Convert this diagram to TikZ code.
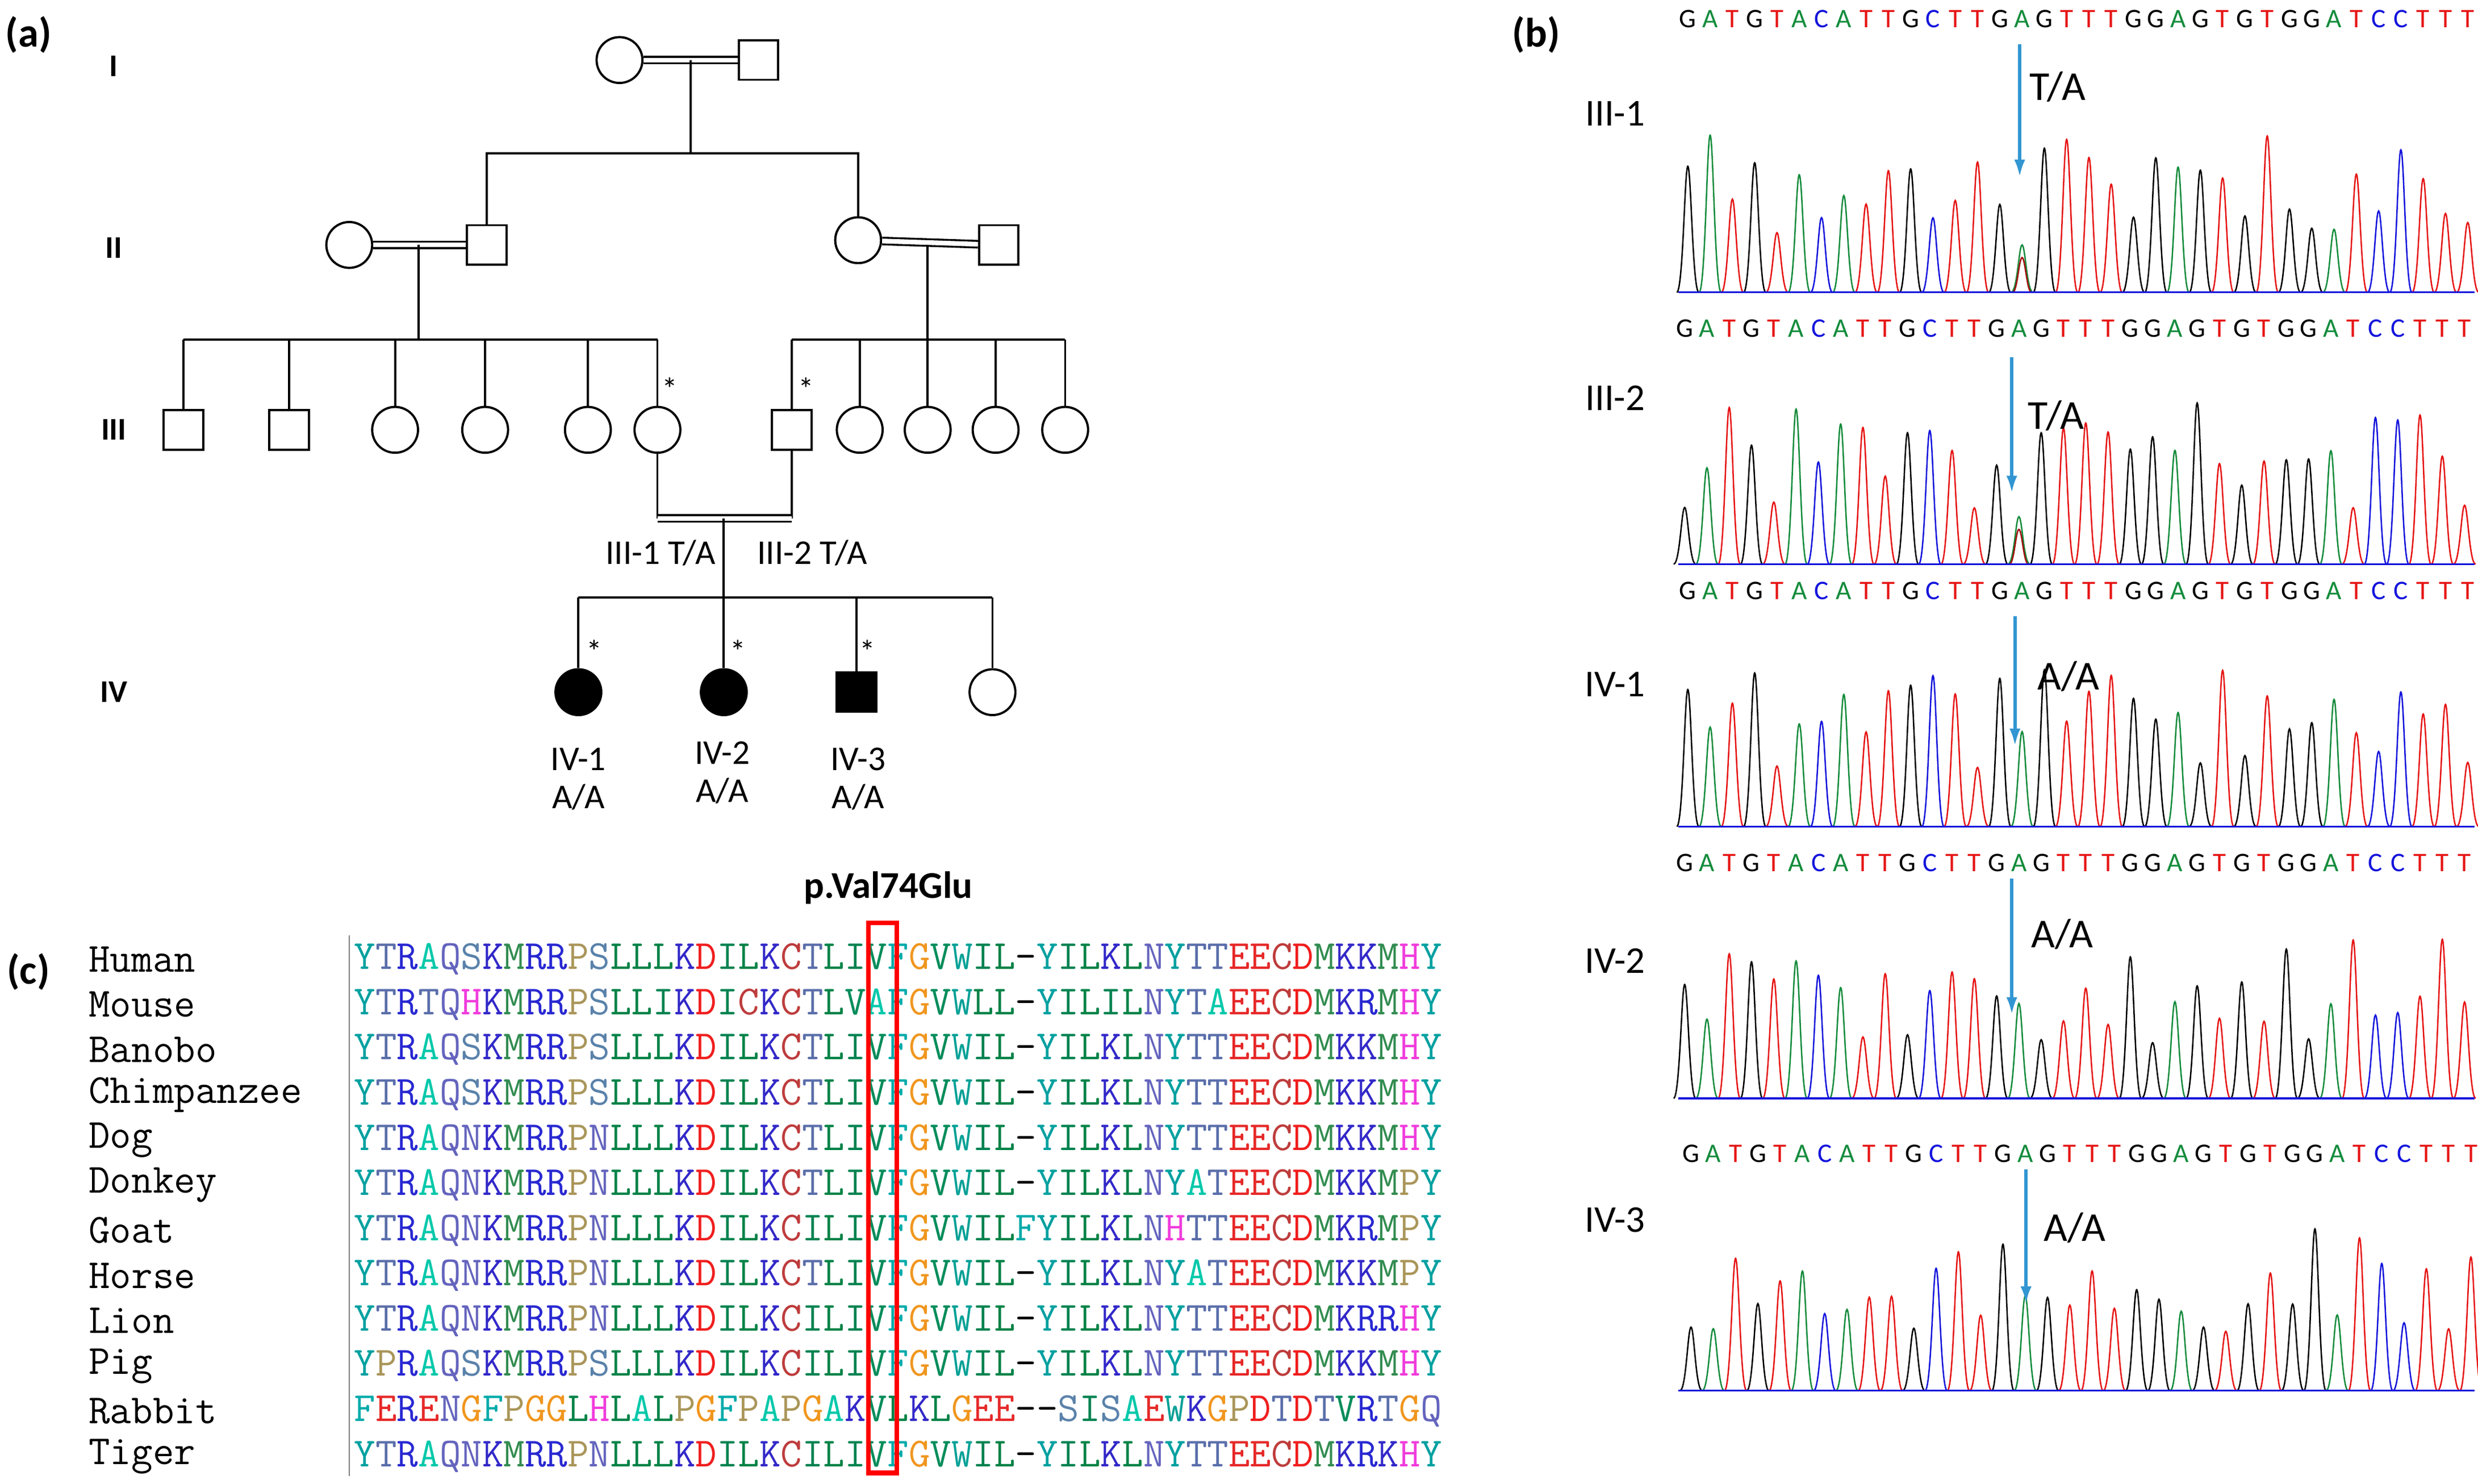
\documentclass[tikz,border=0pt]{standalone}
\usepackage{fontspec}
\setmainfont{Carlito}
\usetikzlibrary{arrows.meta}
\definecolor{colG}{RGB}{0,0,0}
\definecolor{colA}{RGB}{20,140,60}
\definecolor{colT}{RGB}{230,20,20}
\definecolor{colC}{RGB}{20,20,220}
\definecolor{arrblue}{RGB}{50,150,210}
\definecolor{aaY}{RGB}{0,160,160}
\definecolor{aaT}{RGB}{90,110,170}
\definecolor{aaR}{RGB}{40,40,210}
\definecolor{aaA}{RGB}{0,200,170}
\definecolor{aaQ}{RGB}{100,100,190}
\definecolor{aaS}{RGB}{90,130,170}
\definecolor{aaK}{RGB}{50,40,200}
\definecolor{aaM}{RGB}{50,140,80}
\definecolor{aaP}{RGB}{170,150,90}
\definecolor{aaL}{RGB}{0,130,70}
\definecolor{aaD}{RGB}{240,30,30}
\definecolor{aaI}{RGB}{0,130,80}
\definecolor{aaC}{RGB}{190,60,60}
\definecolor{aaV}{RGB}{0,140,90}
\definecolor{aaF}{RGB}{0,170,170}
\definecolor{aaG}{RGB}{240,150,30}
\definecolor{aaW}{RGB}{0,160,150}
\definecolor{aaE}{RGB}{230,40,40}
\definecolor{aaN}{RGB}{100,100,190}
\definecolor{aaH}{RGB}{240,60,220}
\def\aachar#1{\ifx#1-\textcolor{black}{-}\else\textcolor{aa#1}{#1}\fi}
\def\aaseq#1{\ifx#1\relax\else\aachar{#1}\expandafter\aaseq\fi}
\tikzset{
 fem/.style={circle,draw,line width=1.4pt,minimum size=29pt,inner sep=0pt},
 mal/.style={rectangle,draw,line width=1.4pt,minimum size=25pt,inner sep=0pt},
 aff/.style={fill=black},
 dbl/.style={double,double distance=3pt,line width=1.2pt},
 ln/.style={line width=1.4pt},
 gen/.style={font=\fontsize{20}{22}\selectfont\bfseries},
 lab/.style={font=\fontsize{22}{24}\selectfont},
 panel/.style={font=\fontsize{26}{28}\selectfont\bfseries},
 star/.style={font=\fontsize{20}{20}\selectfont},
 blue arrow/.style={arrblue,line width=2pt,-{Latex[length=11pt,width=7pt]}},
 seqlet/.style={font=\fontsize{17}{17}\selectfont,inner sep=0pt},
 aln/.style={font=\fontsize{26.2}{26}\ttfamily,anchor=west,inner sep=0pt},
 gt/.style={font=\fontsize{26}{28}\selectfont,anchor=west,inner sep=1pt},
}
\newcommand\chromo[5]{% base, texty, hetero(1/0), seed, xoffset
 \pgfmathsetseed{#4}
 \foreach \L [count=\i] in {G,A,T,G,T,A,C,A,T,T,G,C,T,T,G,A,G,T,T,T,G,G,A,G,T,G,T,G,G,A,T,C,C,T,T,T}{
  \pgfmathsetmacro\x{1068+#5+(\i-1)*14.1}
  \pgfmathsetmacro\h{ifthenelse(\i==16,ifthenelse(#3==1,30,60),35+68*rnd)}
  \draw[col\L,line width=0.9pt] (\x-7,#1) .. controls (\x-3,#1) and (\x-2,#1-\h) .. (\x,#1-\h) .. controls (\x+2,#1-\h) and (\x+3,#1) .. (\x+7,#1);
  \node[seqlet,text=col\L] at (\x,#2) {\L};
 }
 \ifnum#3=1
  \pgfmathsetmacro\x{1068+#5+15*14.1}
  \draw[colT!70!black,line width=0.9pt] (\x-6,#1) .. controls (\x-3,#1) and (\x-2,#1-22) .. (\x,#1-22) .. controls (\x+2,#1-22) and (\x+3,#1) .. (\x+6,#1);
 \fi
 \draw[colC,line width=1.2pt] (1062,#1) -- (1566,#1);
}
\begin{document}
\begin{tikzpicture}[x=1pt,y=-1pt]
\useasboundingbox (0,0) rectangle (1568,939);
\fill[white] (0,0) rectangle (1568,939);
% ===== (a) pedigree =====
\node[panel] (pa) at (18,22) {(a)};
\node[gen] (gI) at (72,42) {I};
\node[gen] (gII) at (72,157) {II};
\node[gen] (gIII) at (72,272) {III};
\node[gen] (gIV) at (72,438) {IV};
% gen I
\node[fem] (I1) at (392,38) {};
\node[mal] (I2) at (480,38) {};
\draw[dbl] (I1) -- (I2);
\coordinate (m1) at (437,38);
\coordinate (s1) at (437,97);
% gen II
\node[fem] (II1) at (221,155) {};
\node[mal] (II2) at (308,155) {};
\node[fem] (II3) at (543,152) {};
\node[mal] (II4) at (632,155) {};
\draw[dbl] (II1) -- (II2);
\draw[dbl] (II3) -- (II4);
\draw[ln] (m1) -- (s1);
\draw[ln] (II2.north) |- (s1) -| (II3.north);
% gen III
\node[mal] (III1) at (116,272) {};
\node[mal] (III2) at (183,272) {};
\node[fem] (III3) at (250,272) {};
\node[fem] (III4) at (307,272) {};
\node[fem] (III5) at (372,272) {};
\node[fem] (III6) at (416,272) {};
\node[mal] (III7) at (501,272) {};
\node[fem] (III8) at (544,272) {};
\node[fem] (III9) at (587,272) {};
\node[fem] (III10) at (630,272) {};
\node[fem] (III11) at (674,272) {};
\coordinate (m2) at (265,155);
\coordinate (s2) at (265,215);
\coordinate (m3) at (587,155);
\coordinate (s3) at (587,215);
\draw[ln] (m2) -- (s2);
\draw[ln] (m3) -- (s3);
\draw[ln] (III1.north|-s2) -- (III6.north|-s2);
\draw[ln] (III7.north|-s3) -- (III11.north|-s3);
\foreach \n in {III1,III2,III3,III4,III5,III6}{\draw[ln] (\n.north) -- (\n.north|-s2);}
\foreach \n in {III7,III8,III9,III10,III11}{\draw[ln] (\n.north) -- (\n.north|-s3);}
\node[star] (st1) at (424,246) {*};
\node[star] (st2) at (510,246) {*};
% III-1 x III-2
\coordinate (mA) at (416,328);
\coordinate (mB) at (501,328);
\coordinate (m4) at (458,328);
\coordinate (s4) at (458,378);
\draw[ln] (III6.south) -- (mA);
\draw[ln] (III7.south) -- (mB);
\draw[dbl] (mA) -- (mB);
\draw[ln] (m4) -- (s4);
\node[lab] (l31) at (418,350) {III-1 T/A};
\node[lab] (l32) at (514,350) {III-2 T/A};
% gen IV
\node[fem,aff] (IV1) at (366,438) {};
\node[fem,aff] (IV2) at (458,438) {};
\node[mal,aff] (IV3) at (542,438) {};
\node[fem] (IV4) at (628,438) {};
\draw[ln] (IV1.north|-s4) -- (IV4.north|-s4);
\foreach \n in {IV1,IV2,IV3,IV4}{\draw[ln] (\n.north) -- (\n.north|-s4);}
\node[star] (st3) at (376,412) {*};
\node[star] (st4) at (467,412) {*};
\node[star] (st5) at (549,412) {*};
\node[lab,align=center] (t1) at (366,493) {IV-1\\A/A};
\node[lab,align=center] (t2) at (457,489) {IV-2\\A/A};
\node[lab,align=center] (t3) at (543,493) {IV-3\\A/A};
% ===== (b) chromatograms =====
\node[panel] (pb) at (972,22) {(b)};
\chromo{185}{12}{1}{11}{0}
\chromo{357}{208}{1}{23}{-2}
\chromo{523}{374}{0}{37}{0}
\chromo{695}{546}{0}{41}{-2}
\chromo{880}{730}{0}{59}{2}
\node[lab,font=\fontsize{24}{26}\selectfont] (c1) at (1022,72) {III-1};
\node[lab,font=\fontsize{24}{26}\selectfont] (c2) at (1022,252) {III-2};
\node[lab,font=\fontsize{24}{26}\selectfont] (c3) at (1022,433) {IV-1};
\node[lab,font=\fontsize{24}{26}\selectfont] (c4) at (1022,608) {IV-2};
\node[lab,font=\fontsize{24}{26}\selectfont] (c5) at (1022,772) {IV-3};
\coordinate (a1s) at (1278,28); \coordinate (a1e) at (1278,112);
\coordinate (a2s) at (1273,226); \coordinate (a2e) at (1273,312);
\coordinate (a3s) at (1275,390); \coordinate (a3e) at (1275,472);
\coordinate (a4s) at (1273,556); \coordinate (a4e) at (1273,642);
\coordinate (a5s) at (1282,740); \coordinate (a5e) at (1282,825);
\draw[blue arrow] (a1s) -- (a1e);
\draw[blue arrow] (a2s) -- (a2e);
\draw[blue arrow] (a3s) -- (a3e);
\draw[blue arrow] (a4s) -- (a4e);
\draw[blue arrow] (a5s) -- (a5e);
\node[gt] (g1) at (1283,55) {T/A};
\node[gt] (g2) at (1282,263) {T/A};
\node[gt] (g3) at (1288,428) {A/A};
\node[gt] (g4) at (1284,591) {A/A};
\node[gt] (g5) at (1292,777) {A/A};
% ===== (c) alignment =====
\node[panel] (pc) at (18,615) {(c)};
\node[font=\fontsize{24}{26}\selectfont\bfseries] (pv) at (562,562) {p.Val74Glu};
\draw[gray,line width=1pt] (221,592) -- (221,934);
\begin{scope}
\clip (222,585) rectangle (912,936);
\foreach \nm/\sq [count=\r from 0] in {
 Human/YTRAQSKMRRPSLLLKDILKCTLIVFGVWIL-YILKLNYTTEECDMKKMHY,
 Mouse/YTRTQHKMRRPSLLIKDICKCTLVAFGVWLL-YILILNYTAEECDMKRMHY,
 Banobo/YTRAQSKMRRPSLLLKDILKCTLIVFGVWIL-YILKLNYTTEECDMKKMHY,
 Chimpanzee/YTRAQSKMRRPSLLLKDILKCTLIVFGVWIL-YILKLNYTTEECDMKKMHY,
 Dog/YTRAQNKMRRPNLLLKDILKCTLIVFGVWIL-YILKLNYTTEECDMKKMHY,
 Donkey/YTRAQNKMRRPNLLLKDILKCTLIVFGVWIL-YILKLNYATEECDMKKMPY,
 Goat/YTRAQNKMRRPNLLLKDILKCILIVFGVWILFYILKLNHTTEECDMKRMPY,
 Horse/YTRAQNKMRRPNLLLKDILKCTLIVFGVWIL-YILKLNYATEECDMKKMPY,
 Lion/YTRAQNKMRRPNLLLKDILKCILIVFGVWIL-YILKLNYTTEECDMKRRHY,
 Pig/YPRAQSKMRRPSLLLKDILKCILIVFGVWIL-YILKLNYTTEECDMKKMHY,
 Rabbit/FERENGFPGGLHLALPGFPAPGAKVLKLGEE--SISAEWKGPDTDTVRTGQ,
 Tiger/YTRAQNKMRRPNLLLKDILKCILIVFGVWIL-YILKLNYTTEECDMKRKHY}{
 \node[aln] (s\r) at (224,607+\r*28.6) {\expandafter\aaseq\sq\relax};
}
\end{scope}
\foreach \nm [count=\r from 0] in {Human,Mouse,Banobo,Chimpanzee,Dog,Donkey,Goat,Horse,Lion,Pig,Rabbit,Tiger}{
 \node[aln] (n\r) at (56,607+\r*28.6) {\nm};
}
\node[draw=red,line width=3pt,minimum width=18pt,minimum height=348pt,inner sep=0pt] (rbox) at (558.5,758) {};
\end{tikzpicture}
\end{document}
